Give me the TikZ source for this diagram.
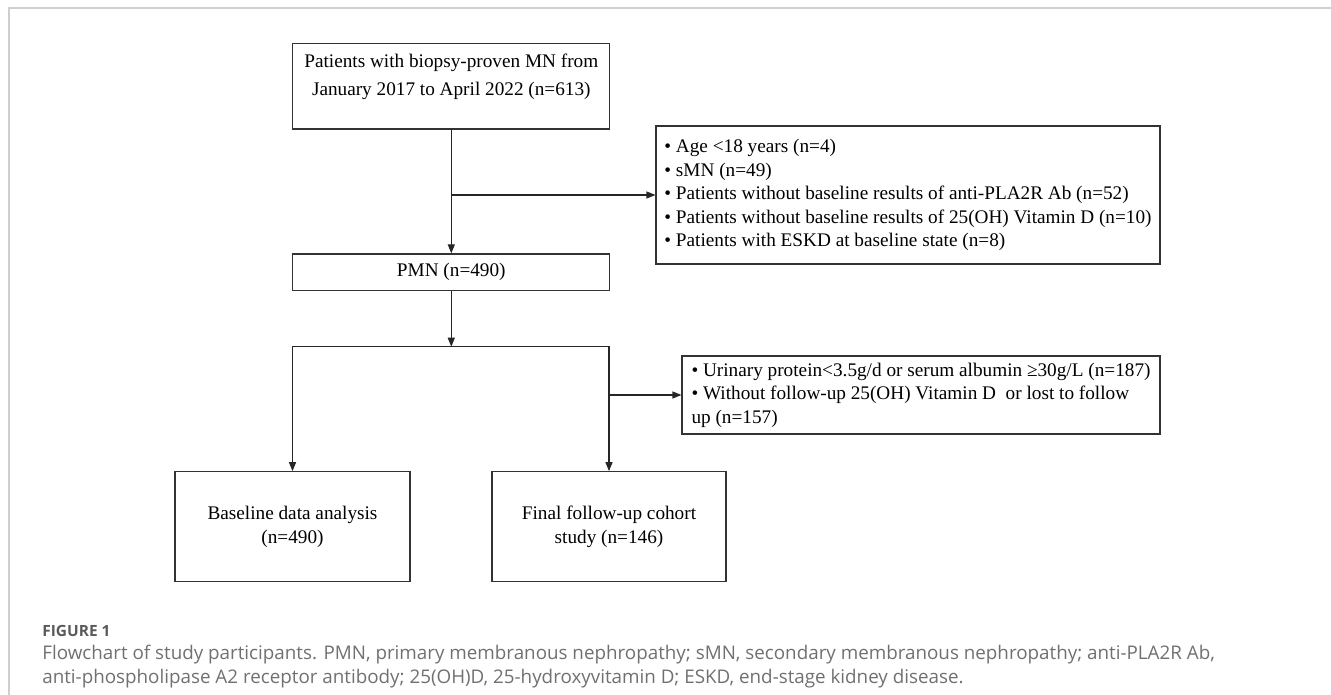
\documentclass[tikz,border=0pt]{standalone}
\usepackage{fontspec}
\setmainfont{Liberation Serif}
\newfontfamily\capfont{Open Sans}
\usetikzlibrary{arrows.meta}

\newdimen\pxu \pxu=0.02cm
\definecolor{capgray}{HTML}{707070}
\definecolor{framegray}{HTML}{CFCFCF}

\begin{document}
\begin{tikzpicture}[x=0.02cm, y=-0.02cm,
  box/.style={draw=black!80, line width=0.65pt, inner sep=0pt, font=\fontsize{10.95}{13.4}\selectfont},
  listbox/.style={box, align=left},
  arr/.style={-{Triangle[length=5.1pt,width=4pt]}, line width=0.6pt, black!85}]

\useasboundingbox (0,0) rectangle (1331,695);
\draw[framegray, line width=2\pxu] (9,695) -- (9,8) -- (1331,8);

\node[box, anchor=north, minimum width=317\pxu, align=center, inner ysep=10\pxu,
      text depth=24\pxu, font=\fontsize{10.95}{15.9}\selectfont] (src) at (451.3,43)
  {Patients with biopsy-proven MN from\\January 2017 to April 2022 (n=613)};
\node[listbox, minimum width=504\pxu, minimum height=138\pxu] (excl1) at (908,195)
  {\textbullet\ Age <18 years (n=4)\\
   \textbullet\ sMN (n=49)\\
   \textbullet\ Patients without baseline results of anti-PLA2R Ab (n=52)\\
   \textbullet\ Patients without baseline results of 25(OH) Vitamin D (n=10)\\
   \textbullet\ Patients with ESKD at baseline state (n=8)};
\node[box, minimum width=317\pxu, minimum height=36.7\pxu] (pmn) at (451.3,272.3) {PMN (n=490)};
\coordinate (split) at (451.3,346.7);
\node[listbox, minimum width=478\pxu, minimum height=78\pxu] (excl2) at (921,395)
  {\textbullet\ Urinary protein<3.5g/d or serum albumin ≥30g/L (n=187)\\
   \textbullet\ Without follow-up 25(OH) Vitamin D\ \ or lost to follow\\
   up (n=157)};
\node[box, align=center, minimum width=235\pxu, minimum height=110\pxu] (base) at (292.5,526.7)
  {Baseline data analysis\\(n=490)};
\node[box, align=center, minimum width=234\pxu, minimum height=110\pxu] (follow) at (609,526.7)
  {Final follow-up cohort\\study (n=146)};

\draw[arr] (src) -- (pmn);
\draw[arr] (src.south |- excl1.west) -- (excl1.west);
\draw[arr] (pmn) -- (split);
\draw[arr] (split) -| (base.north);
\draw[arr] (split) -| (follow.north);
\draw[arr] (follow.north |- excl2.west) -- (excl2.west);

\node[anchor=west, text=capgray!80!black, font=\capfont\bfseries\fontsize{8.8}{10}\selectfont, inner sep=0pt] (fig) at (42,631) {FIGURE 1};
\node[anchor=north west, align=left, text=capgray, font=\capfont\fontsize{10.7}{13.7}\selectfont, inner sep=0pt] (cap) at (42,645)
  {Flowchart of study participants. PMN, primary membranous nephropathy; sMN, secondary membranous nephropathy; anti-PLA2R Ab,\\
   anti-phospholipase A2 receptor antibody; 25(OH)D, 25-hydroxyvitamin D; ESKD, end-stage kidney disease.};
\end{tikzpicture}
\end{document}
